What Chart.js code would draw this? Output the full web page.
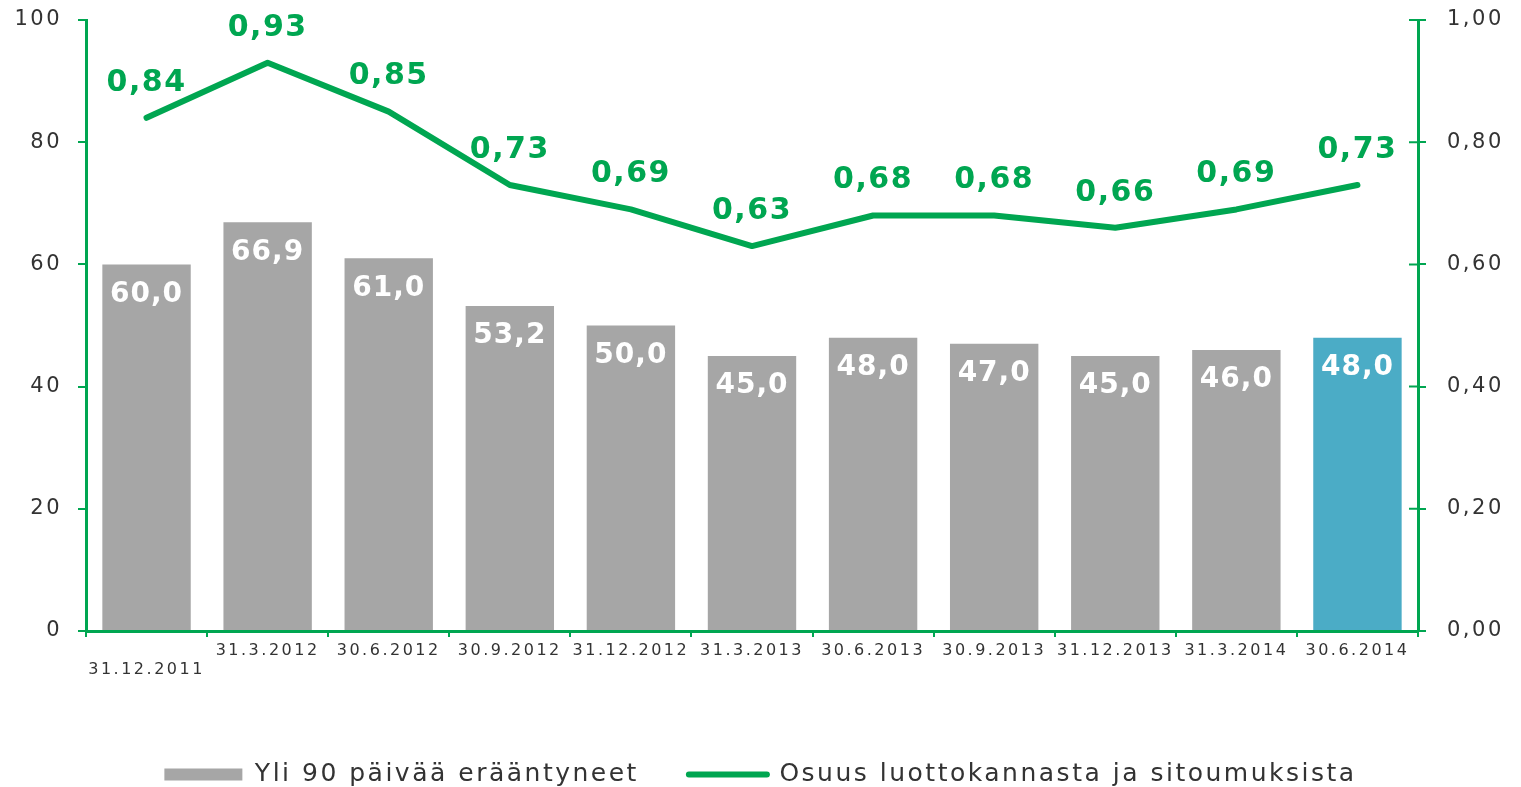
<!DOCTYPE html>
<html>
<head>
<meta charset="utf-8">
<script src="https://cdn.jsdelivr.net/npm/chart.js@4"></script>
<style>
  html, body { margin: 0; padding: 0; background: #fff; }
  #wrap { width: 1521px; height: 787px; }
</style>
</head>
<body>
<div id="wrap"><canvas id="chart"></canvas></div>
<script>
// Data
const categories = ['31.12.2011', '31.3.2012', '30.6.2012', '30.9.2012', '31.12.2012', '31.3.2013',
  '30.6.2013', '30.9.2013', '31.12.2013', '31.3.2014', '30.6.2014'];
const overdueValues = [60.0, 66.9, 61.0, 53.2, 50.0, 45.0, 48.0, 47.0, 45.0, 46.0, 48.0];
const shareValues = [0.84, 0.93, 0.85, 0.73, 0.69, 0.63, 0.68, 0.68, 0.66, 0.69, 0.73];
const seriesNames = ['Yli 90 päivää erääntyneet', 'Osuus luottokannasta ja sitoumuksista'];

const GREEN = '#00A651';
const GRAY = '#A6A6A6';
const TEAL = '#4BACC6';
const TEXT = '#333333';
const SPACING = '2.5px';

Chart.defaults.font.family = "'DejaVu Sans', sans-serif";

const barColors = overdueValues.map((v, i) => i === overdueValues.length - 1 ? TEAL : GRAY);

function fmt(value, digits) {
  return value.toFixed(digits).replace('.', ',');
}

// the source text is drawn wide, so space the letters a bit
const spacingPlugin = {
  id: 'spacing',
  beforeUpdate(chart) { chart.ctx.letterSpacing = SPACING; },
  beforeDraw(chart) { chart.ctx.letterSpacing = SPACING; },
  afterLayout(chart) {
    // legend row sits a little lower in the source
    chart.legend.top += 10;
    chart.legend.bottom += 10;
  }
};

const valueLabels = {
  id: 'valueLabels',
  afterDatasetsDraw(chart) {
    const ctx = chart.ctx;
    ctx.save();
    ctx.textAlign = 'center';
    ctx.textBaseline = 'middle';
    ctx.letterSpacing = '1px';
    ctx.font = "bold 28px 'DejaVu Sans'";
    ctx.fillStyle = '#fff';
    chart.getDatasetMeta(0).data.forEach((bar, i) => {
      ctx.fillText(fmt(overdueValues[i], 1), bar.x, bar.y + 30);
    });
    ctx.letterSpacing = '1.5px';
    ctx.font = "bold 30px 'DejaVu Sans'";
    ctx.fillStyle = GREEN;
    chart.getDatasetMeta(1).data.forEach((pt, i) => {
      ctx.fillText(fmt(shareValues[i], 2), pt.x, pt.y - 35);
    });
    ctx.restore();
  }
};

// right axis ticks cross the axis line
const crossTicks = {
  id: 'crossTicks',
  afterDraw(chart) {
    const s = chart.scales.y1;
    const ctx = chart.ctx;
    ctx.save();
    ctx.strokeStyle = GREEN;
    ctx.lineWidth = 2;
    ctx.beginPath();
    s.ticks.forEach((t, i) => {
      const y = s.getPixelForTick(i);
      ctx.moveTo(s.left - 9, y);
      ctx.lineTo(s.left, y);
    });
    ctx.stroke();
    ctx.restore();
  }
};

function fixWidth(width) {
  return s => {
    s.width = width;
    s.paddingTop = 0;
    s.paddingBottom = 0;
  };
}

new Chart(document.getElementById('chart'), {
  data: {
    labels: categories,
    datasets: [
      {
        type: 'bar',
        label: seriesNames[0],
        data: overdueValues,
        backgroundColor: barColors,
        borderWidth: 0,
        barPercentage: 0.73,
        categoryPercentage: 1,
        pointStyle: 'rect',
        yAxisID: 'y'
      },
      {
        type: 'line',
        label: seriesNames[1],
        data: shareValues,
        borderColor: GREEN,
        backgroundColor: GREEN,
        borderWidth: 6,
        borderCapStyle: 'round',
        borderJoinStyle: 'round',
        tension: 0,
        pointRadius: 0,
        pointStyle: 'line',
        yAxisID: 'y1'
      }
    ]
  },
  options: {
    responsive: true,
    maintainAspectRatio: false,
    animation: false,
    layout: { padding: { top: 20 } },
    plugins: {
      tooltip: { enabled: false },
      legend: {
        position: 'bottom',
        labels: {
          usePointStyle: true,
          pointStyleWidth: 78,
          boxHeight: 12,
          padding: 50,
          color: TEXT,
          font: { size: 25 },
          generateLabels(chart) {
            const items = Chart.defaults.plugins.legend.labels.generateLabels(chart);
            items[0].lineWidth = 0;
            items[1].lineWidth = 6;
            items[1].lineCap = 'round';
            items[1].strokeStyle = GREEN;
            return items;
          }
        }
      }
    },
    scales: {
      x: {
        grid: { offset: true, drawOnChartArea: false, color: GREEN, lineWidth: 2, tickLength: 6 },
        border: { color: GREEN, width: 3 },
        ticks: {
          autoSkip: false,
          maxRotation: 0,
          minRotation: 0,
          padding: 4,
          color: TEXT,
          font: { size: 16 },
          callback: (v, i) => i === 0 ? ['', categories[i]] : categories[i]
        },
        afterFit: s => { s.height = 71; }
      },
      y: {
        position: 'left',
        min: 0,
        max: 100,
        ticks: { stepSize: 20, padding: 16, color: TEXT, font: { size: 21 } },
        grid: { drawOnChartArea: false, color: GREEN, lineWidth: 2, tickLength: 8 },
        border: { color: GREEN, width: 3 },
        afterFit: fixWidth(86)
      },
      y1: {
        position: 'right',
        min: 0,
        max: 1,
        ticks: { stepSize: 0.2, padding: 21, color: TEXT, font: { size: 21 }, callback: v => fmt(v, 2) },
        grid: { drawOnChartArea: false, color: GREEN, lineWidth: 2, tickLength: 8 },
        border: { color: GREEN, width: 3 },
        afterFit: fixWidth(103)
      }
    }
  },
  plugins: [spacingPlugin, valueLabels, crossTicks]
});
</script>
</body>
</html>
